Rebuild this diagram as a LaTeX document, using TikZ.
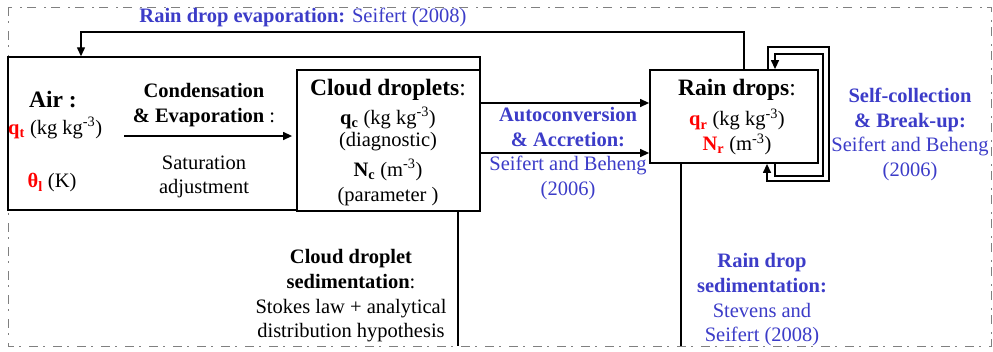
\documentclass[tikz,border=0pt]{standalone}
\usepackage{fontspec}
\setmainfont{Liberation Serif}
\usepackage{xcolor}
\usetikzlibrary{arrows.meta}

\definecolor{refblue}{RGB}{60,60,200}
\newcommand{\regsize}{\fontsize{20.5pt}{24.7pt}\selectfont}
\newcommand{\headsize}{\fontsize{23.5pt}{28pt}\selectfont}
\newcommand{\species}[3]{\textcolor{#1}{\textbf{#2\textsubscript{#3}}}}

\tikzset{
	box/.style={draw, line width=1.8pt, fill=white, inner sep=0pt},
	arr/.style={line width=1.3pt, -{Triangle[length=9pt,width=8pt]}},
	flow/.style={line width=1.3pt},
	lbl/.style={align=center, inner sep=0pt, font=\regsize},
	ref/.style={lbl, text=refblue},
}

\begin{document}
\begin{tikzpicture}[x=1pt, y=-1pt]
	\useasboundingbox (0,0) rectangle (993,351);
	\draw[gray, line width=1pt, dash pattern=on 9pt off 5pt on 2pt off 8pt] (8,7) rectangle (991,346);

	\node[box, line width=1.4pt, minimum width=472pt, minimum height=153pt] (air) at (244,133.5) {};
	\node[box, minimum width=183pt, minimum height=141pt] (cloud) at (388.5,140.5) {};
	\node[box, minimum width=168pt, minimum height=93pt] (rain) at (734,116.5) {};

	\node[lbl, font=\headsize\bfseries] (airtitle) at (53,100) {Air :};
	\node[lbl, anchor=west] (airqt) at (8,128) {\species{red}{q}{t} (kg kg\textsuperscript{-3})};
	\node[lbl] (airtheta) at (52,183) {\species{red}{θ}{l} (K)};

	\node[lbl] (condtitle) at (204,105) {\textbf{Condensation}\\\textbf{\& Evaporation} :};
	\node[lbl] (satadj) at (204,177) {Saturation\\adjustment};
	\coordinate (condstart) at (124,136);
	\draw[arr, shorten >=4pt] (condstart) -- (condstart -| cloud.west);

	\node[lbl, font=\headsize] (cloudtitle) at (388,90) {\textbf{Cloud droplets}:};
	\node[lbl] (cloudqc) at (388,129) {\species{black}{q}{c} (kg kg\textsuperscript{-3})\\[-3pt](diagnostic)};
	\node[lbl] (cloudnc) at (388,182.5) {\species{black}{N}{c} (m\textsuperscript{-3})\\(parameter )};

	\node[lbl, font=\headsize] (raintitle) at (737,90) {\textbf{Rain drops}:};
	\node[lbl] (rainvars) at (737,132) {\species{red}{q}{r} (kg kg\textsuperscript{-3})\\\species{red}{N}{r} (m\textsuperscript{-3})};

	\draw[arr] ([yshift=37.5pt]cloud.east) -- ([yshift=37.5pt]cloud.east -| rain.west);
	\draw[arr] ([yshift=-12.5pt]cloud.east) -- ([yshift=-12.5pt]cloud.east -| rain.west);
	\node[ref] (autoconv) at (568,153.5) {\textbf{Autoconversion}\\\textbf{\& Accretion:}\\Seifert and Beheng\\(2006)};

	\node[ref] (evaptitle) at (303,17) {\textbf{Rain drop evaporation:} Seifert (2008)};
	\coordinate (evapcorner) at (81,32);
	\draw[arr] ([xshift=10pt]rain.north) |- (evapcorner) -- (evapcorner |- air.north);

	\draw[arr] ([xshift=34pt]rain.north) |- ++(61,-22) |- ++(-62,134) -- ([xshift=33pt]rain.south);
	\draw[arr] ([xshift=41pt]rain.south) |- ++(48,12) |- ++(-48,-122) -- ([xshift=41pt]rain.north);
	\node[ref] (selfcoll) at (910,134.5) {\textbf{Self-collection}\\\textbf{\& Break-up:}\\Seifert and Beheng\\(2006)};

	\coordinate (cloudsedend) at (458,346);
	\draw[flow] (cloud.south -| cloudsedend) -- (cloudsedend);
	\node[lbl] (cloudsed) at (351,296) {\textbf{Cloud droplet}\\\textbf{sedimentation}:\\Stokes law + analytical\\distribution hypothesis};

	\coordinate (rainsedend) at (681,346);
	\draw[flow] (rain.south -| rainsedend) -- (rainsedend);
	\node[ref] (rainsed) at (762,300) {\textbf{Rain drop}\\\textbf{sedimentation:}\\Stevens and\\Seifert (2008)};
\end{tikzpicture}
\end{document}
